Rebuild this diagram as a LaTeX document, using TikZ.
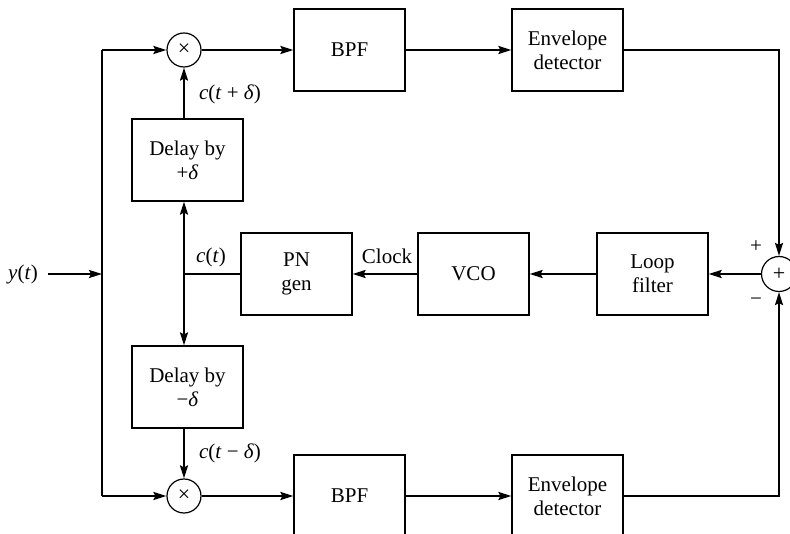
\documentclass[tikz,border=0pt]{standalone}
\usepackage{fontspec}
\setmainfont{Liberation Serif}
\usetikzlibrary{arrows.meta}
\tikzset{
  blk/.style={draw, line width=1.2pt, minimum width=111pt, minimum height=82pt, align=center, inner sep=0pt, font=\fontsize{21}{24}\selectfont},
  mix/.style={draw, circle, line width=1.2pt, minimum size=34pt, inner sep=0pt, font=\fontsize{22}{24}\selectfont},
  conn/.style={line width=2pt},
  arr/.style={conn, -{Stealth[length=13pt,width=8pt,inset=2pt]}},
  lbl/.style={inner sep=0pt, font=\fontsize{21}{24}\selectfont}
}
\newcommand{\ivar}[1]{\textit{#1}}
\begin{document}
\begin{tikzpicture}[x=1pt,y=-1pt]
\useasboundingbox (0,0) rectangle (790,534);
\clip (0,0) rectangle (790,534);
% blocks
\node[blk] (bpf1) at (349.5,50) {BPF};
\node[blk] (env1) at (567.5,50) {Envelope\\detector};
\node[blk] (bpf2) at (349.5,496) {BPF};
\node[blk] (env2) at (567.5,496) {Envelope\\detector};
\node[blk] (dp) at (187.5,160) {Delay by\\+\ivar{δ}};
\node[blk] (dm) at (187.5,387) {Delay by\\−\ivar{δ}};
\node[blk] (pn) at (296.5,274) {PN\\gen};
\node[blk] (vco) at (473.5,274) {VCO};
\node[blk] (lf) at (652.5,274) {Loop\\filter};
\node[mix] (m1) at (184,50) {×};
\node[mix] (m2) at (184,496) {×};
\node[mix, minimum size=35pt] (sum) at (779,274) {+};
% coordinates
\coordinate (yin) at (48,274);
\coordinate (jl) at (102,274);
\coordinate (jt) at (102,50);
\coordinate (jb) at (102,496);
\coordinate (jc) at (184,274);
% labels
\node[lbl] (ylab) at (23,274) {\ivar{y}(\ivar{t})};
\node[lbl] (clab) at (211,257) {\ivar{c}(\ivar{t})};
\node[lbl] (clk) at (387,256) {Clock};
\node[lbl] (cp) at (230,94) {\ivar{c}(\ivar{t} + \ivar{δ})};
\node[lbl] (cm) at (230,453) {\ivar{c}(\ivar{t} − \ivar{δ})};
\node[lbl] (pl) at (756,247) {+};
\node[lbl] (mi) at (756,302) {−};
% connectors
\draw[arr] (yin) -- (jl);
\draw[conn] (jt) -- (jb);
\draw[arr] (jt) -- (m1.west);
\draw[arr] (jb) -- (m2.west);
\draw[arr] (m1.east) -- (bpf1.west);
\draw[arr] (m2.east) -- (bpf2.west);
\draw[arr] (bpf1.east) -- (env1.west);
\draw[arr] (bpf2.east) -- (env2.west);
\draw[arr] (env1.east) -| (sum.north);
\draw[arr] (env2.east) -| (sum.south);
\draw[arr] (sum.west) -- (lf.east);
\draw[arr] (lf.west) -- (vco.east);
\draw[arr] (vco.west) -- (pn.east);
\draw[conn] (pn.west) -- (jc);
\draw[arr] (jc) -- (jc |- dp.south);
\draw[arr] (jc) -- (jc |- dm.north);
\draw[arr] (jc |- dp.north) -- (m1.south);
\draw[arr] (jc |- dm.south) -- (m2.north);
\end{tikzpicture}
\end{document}
